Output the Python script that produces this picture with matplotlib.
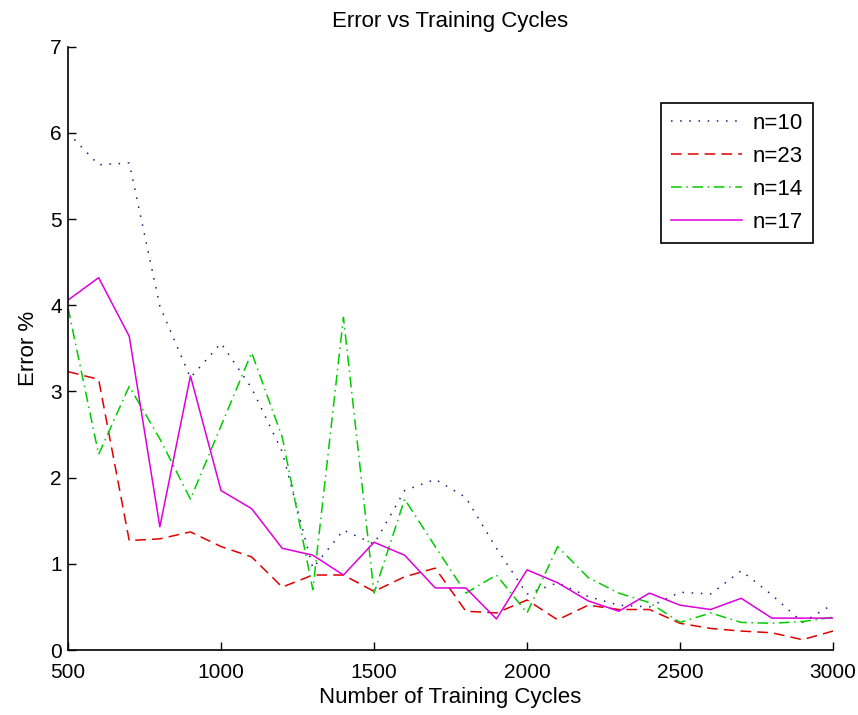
import numpy as np
import matplotlib
matplotlib.use('Agg')
import matplotlib.pyplot as plt

plt.rcParams['font.family'] = ['Liberation Sans', 'DejaVu Sans']

cycles = list(range(500, 3001, 100))

err_n10 = [6.0, 5.63, 5.65, 3.99, 3.16, 3.56, 3.04, 2.3, 0.95, 1.39,
           1.23, 1.85, 1.98, 1.77, 1.18, 0.65, 0.78, 0.62, 0.52, 0.5,
           0.67, 0.65, 0.92, 0.64, 0.32, 0.53]
err_n23 = [3.23, 3.14, 1.27, 1.29, 1.37, 1.2, 1.08, 0.73, 0.87, 0.87,
           0.68, 0.85, 0.95, 0.45, 0.43, 0.58, 0.35, 0.52, 0.47, 0.47,
           0.31, 0.25, 0.22, 0.2, 0.12, 0.22]
err_n14 = [3.97, 2.27, 3.06, 2.45, 1.75, 2.6, 3.45, 2.47, 0.7, 3.86,
           0.66, 1.75, 1.2, 0.66, 0.87, 0.43, 1.2, 0.84, 0.66, 0.55,
           0.32, 0.43, 0.32, 0.31, 0.33, 0.38]
err_n17 = [4.06, 4.32, 3.64, 1.43, 3.18, 1.85, 1.64, 1.18, 1.1, 0.87,
           1.25, 1.1, 0.72, 0.72, 0.36, 0.93, 0.78, 0.57, 0.45, 0.66,
           0.52, 0.47, 0.6, 0.37, 0.37, 0.37]

fig = plt.figure(figsize=(8.58, 7.15), dpi=100)
ax = fig.add_axes([0.0793, 0.0909, 0.8916, 0.8438])

ax.plot(cycles, err_n10, color='#1a1a80', linestyle=(0, (1, 5)), linewidth=1.1, label='n=10')
ax.plot(cycles, err_n23, color='#e00000', linestyle=(0, (7, 4)), linewidth=1.1, label='n=23')
ax.plot(cycles, err_n14, color='#00cc00', linestyle=(0, (7, 3, 1, 3)), linewidth=1.1, label='n=14')
ax.plot(cycles, err_n17, color='#dd00dd', linestyle='-', linewidth=1.1, label='n=17')

ax.set_xlim(500, 3000)
ax.set_ylim(0, 7)
ax.set_xticks(range(500, 3001, 500))
ax.set_yticks(range(0, 8))
ax.tick_params(direction='in', labelsize=15, length=6, width=1)
ax.tick_params(axis='x', pad=9)
ax.tick_params(axis='y', pad=4.5)
for side in ['top', 'right']:
    ax.spines[side].set_visible(False)
for side in ['left', 'bottom']:
    ax.spines[side].set_linewidth(1.2)

ax.set_title('Error vs Training Cycles', fontsize=16, pad=14)
ax.set_xlabel('Number of Training Cycles', fontsize=16, labelpad=4)
ax.set_ylabel('Error %', fontsize=16, labelpad=8)

leg = ax.legend(loc='upper right', bbox_to_anchor=(0.974, 0.907), fontsize=16,
                handlelength=3.2, handletextpad=0.45,
                fancybox=False, framealpha=1, borderpad=0.47, labelspacing=0.53,
                borderaxespad=0)
leg.get_frame().set_edgecolor('black')
leg.get_frame().set_linewidth(1.2)

fig.savefig('out.png', dpi=100)
